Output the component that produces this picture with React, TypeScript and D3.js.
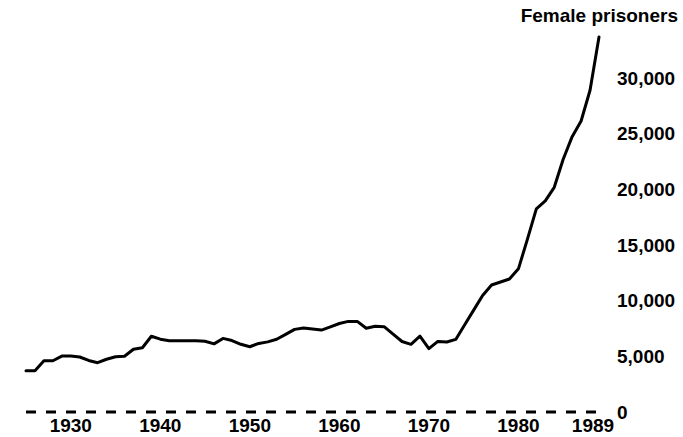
import { useEffect, useRef } from 'react';
import { select, scaleLinear, line, format } from 'd3';

const years = [
  1925, 1926, 1927, 1928, 1929, 1930, 1931, 1932, 1933, 1934, 1935, 1936,
  1937, 1938, 1939, 1940, 1941, 1942, 1943, 1944, 1945, 1946, 1947, 1948,
  1949, 1950, 1951, 1952, 1953, 1954, 1955, 1956, 1957, 1958, 1959, 1960,
  1961, 1962, 1963, 1964, 1965, 1966, 1967, 1968, 1969, 1970, 1971, 1972,
  1973, 1974, 1975, 1976, 1977, 1978, 1979, 1980, 1981, 1982, 1983, 1984,
  1985, 1986, 1987, 1988, 1989,
];

const femalePrisoners = [
  3710, 3710, 4600, 4600, 5020, 5020, 4940, 4630, 4430, 4740, 4960, 5010,
  5640, 5770, 6800, 6540, 6400, 6400, 6400, 6400, 6360, 6120, 6610, 6420,
  6080, 5860, 6160, 6300, 6530, 6970, 7420, 7550, 7460, 7360, 7650, 7950,
  8140, 8140, 7520, 7700, 7660, 6990, 6330, 6080, 6810, 5690, 6340, 6290,
  6520, 7840, 9150, 10470, 11410, 11680, 11950, 12860, 15500, 18250, 18960,
  20180, 22700, 24730, 26140, 28900, 33690,
];

const xTicks = [1930, 1940, 1950, 1960, 1970, 1980, 1989];
const yTicks = [0, 5000, 10000, 15000, 20000, 25000, 30000];

const width = 683;
const height = 437;
const margin = { top: 78, right: 84, bottom: 25, left: 26 };
const font = '"Liberation Sans", Arial, Helvetica, sans-serif';

const App = () => {
  const svgRef = useRef<SVGSVGElement>(null);

  useEffect(() => {
    document.body.style.margin = '0';
    if (!svgRef.current) return;

    const x = scaleLinear()
      .domain([1925, 1989])
      .range([margin.left, width - margin.right]);
    const y = scaleLinear()
      .domain([0, 30000])
      .range([height - margin.bottom, margin.top]);

    const svg = select(svgRef.current);
    svg.selectAll('*').remove();

    // dashed zero line
    svg
      .append('line')
      .attr('x1', x(1925))
      .attr('x2', x(1989) - 2)
      .attr('y1', y(0))
      .attr('y2', y(0))
      .attr('stroke', '#000')
      .attr('stroke-width', 3)
      .attr('stroke-dasharray', '10,10');

    const path = line<number>()
      .x((d, i) => x(years[i]))
      .y((d) => y(d));

    svg
      .append('path')
      .datum(femalePrisoners)
      .attr('d', path)
      .attr('fill', 'none')
      .attr('stroke', '#000')
      .attr('stroke-width', 3)
      .attr('stroke-linejoin', 'round')
      .attr('stroke-linecap', 'round');

    svg
      .selectAll('text.ylab')
      .data(yTicks)
      .join('text')
      .attr('class', 'ylab')
      .attr('x', 617)
      .attr('y', (d) => y(d))
      .attr('dy', '0.35em')
      .attr('font-family', font)
      .attr('font-weight', 'bold')
      .attr('font-size', 19)
      .attr('fill', '#000')
      .text((d) => format(',')(d));

    // last year label sits a bit left so it clears the "0"
    svg
      .selectAll('text.xlab')
      .data(xTicks)
      .join('text')
      .attr('class', 'xlab')
      .attr('x', (d) => x(d))
      .attr('dx', (d, i) => (i === xTicks.length - 1 ? -6 : 0))
      .attr('y', 432)
      .attr('text-anchor', 'middle')
      .attr('font-family', font)
      .attr('font-weight', 'bold')
      .attr('font-size', 19)
      .attr('fill', '#000')
      .text((d) => d);

    svg
      .append('text')
      .attr('x', 678)
      .attr('y', 22)
      .attr('text-anchor', 'end')
      .attr('font-family', font)
      .attr('font-weight', 'bold')
      .attr('font-size', 19)
      .attr('fill', '#000')
      .text('Female prisoners');
  }, []);

  return (
    <svg
      ref={svgRef}
      width={width}
      height={height}
      style={{ display: 'block', background: '#fff' }}
    />
  );
};

export default App;
